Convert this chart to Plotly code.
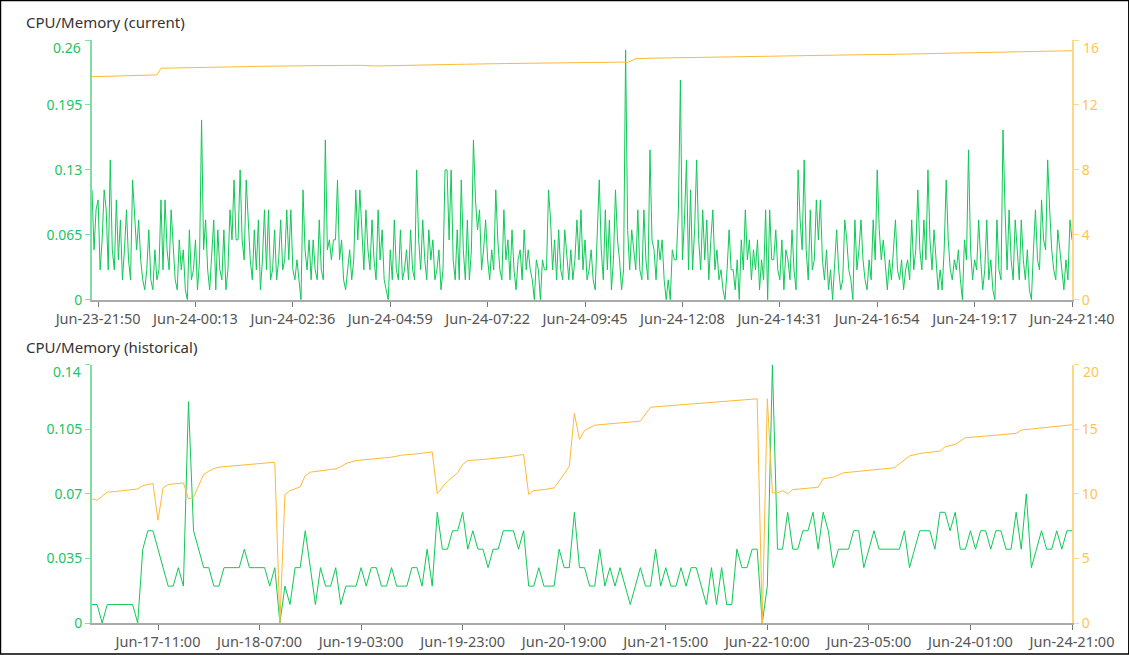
import plotly.graph_objects as go

# Dados: CPU/Memory (current) - uma amostra a cada ~3 min
cpu_current = [
    0.11, 0.05, 0.09, 0.10, 0.03, 0.06, 0.11, 0.09, 0.03, 0.14, 0.05, 0.03, 0.10, 0.04, 0.08, 0.02, 0.05, 0.09, 0.04, 0.02, 0.12, 0.08, 0.05, 0.08,
    0.04, 0.02, 0.01, 0.03, 0.07, 0.02, 0.01, 0.05, 0.02, 0.03, 0.10, 0.03, 0.10, 0.05, 0.03, 0.09, 0.06, 0.02, 0.01, 0.06, 0.03, 0.05, 0.01, 0.00,
    0.07, 0.02, 0.03, 0.06, 0.01, 0.04, 0.18, 0.05, 0.08, 0.03, 0.01, 0.05, 0.08, 0.01, 0.07, 0.03, 0.02, 0.07, 0.01, 0.03, 0.09, 0.06, 0.12, 0.06,
    0.06, 0.13, 0.06, 0.04, 0.12, 0.08, 0.04, 0.02, 0.07, 0.03, 0.08, 0.01, 0.04, 0.09, 0.03, 0.09, 0.02, 0.03, 0.07, 0.02, 0.04, 0.08, 0.03, 0.04,
    0.09, 0.04, 0.09, 0.03, 0.02, 0.04, 0.02, 0.00, 0.11, 0.05, 0.03, 0.06, 0.02, 0.06, 0.03, 0.02, 0.08, 0.03, 0.02, 0.16, 0.05, 0.06, 0.04, 0.06,
    0.06, 0.12, 0.04, 0.06, 0.02, 0.01, 0.03, 0.05, 0.02, 0.04, 0.11, 0.06, 0.11, 0.07, 0.03, 0.09, 0.05, 0.03, 0.08, 0.04, 0.02, 0.09, 0.04, 0.07,
    0.02, 0.01, 0.00, 0.05, 0.02, 0.08, 0.03, 0.02, 0.07, 0.02, 0.03, 0.05, 0.02, 0.07, 0.03, 0.02, 0.13, 0.06, 0.03, 0.08, 0.04, 0.02, 0.07, 0.04,
    0.06, 0.02, 0.03, 0.05, 0.01, 0.03, 0.13, 0.13, 0.06, 0.13, 0.04, 0.02, 0.07, 0.02, 0.12, 0.05, 0.02, 0.08, 0.02, 0.05, 0.16, 0.10, 0.07, 0.09,
    0.03, 0.05, 0.08, 0.04, 0.02, 0.05, 0.03, 0.11, 0.06, 0.03, 0.02, 0.09, 0.04, 0.06, 0.02, 0.07, 0.03, 0.01, 0.04, 0.05, 0.02, 0.07, 0.03, 0.05,
    0.03, 0.02, 0.00, 0.04, 0.03, 0.00, 0.04, 0.03, 0.03, 0.11, 0.08, 0.03, 0.06, 0.02, 0.07, 0.03, 0.02, 0.07, 0.04, 0.02, 0.05, 0.02, 0.04, 0.08,
    0.04, 0.09, 0.03, 0.06, 0.02, 0.03, 0.05, 0.02, 0.01, 0.06, 0.12, 0.05, 0.02, 0.09, 0.03, 0.08, 0.01, 0.04, 0.11, 0.06, 0.04, 0.01, 0.03, 0.25,
    0.07, 0.03, 0.07, 0.05, 0.03, 0.09, 0.03, 0.02, 0.09, 0.04, 0.02, 0.15, 0.06, 0.05, 0.02, 0.06, 0.04, 0.06, 0.02, 0.00, 0.02, 0.00, 0.05, 0.04,
    0.04, 0.09, 0.22, 0.04, 0.08, 0.14, 0.03, 0.11, 0.03, 0.07, 0.14, 0.06, 0.03, 0.09, 0.04, 0.08, 0.02, 0.06, 0.09, 0.03, 0.05, 0.02, 0.03, 0.01,
    0.00, 0.03, 0.07, 0.03, 0.03, 0.01, 0.04, 0.00, 0.06, 0.03, 0.09, 0.04, 0.06, 0.02, 0.05, 0.03, 0.06, 0.01, 0.04, 0.02, 0.09, 0.00, 0.09, 0.04,
    0.04, 0.07, 0.03, 0.02, 0.06, 0.01, 0.05, 0.04, 0.02, 0.07, 0.03, 0.01, 0.13, 0.08, 0.05, 0.14, 0.05, 0.02, 0.09, 0.03, 0.04, 0.10, 0.06, 0.10,
    0.04, 0.02, 0.05, 0.01, 0.03, 0.00, 0.03, 0.07, 0.03, 0.01, 0.02, 0.08, 0.06, 0.03, 0.02, 0.00, 0.08, 0.03, 0.05, 0.08, 0.04, 0.02, 0.01, 0.04,
    0.02, 0.08, 0.04, 0.13, 0.07, 0.04, 0.06, 0.03, 0.01, 0.04, 0.02, 0.05, 0.08, 0.03, 0.02, 0.04, 0.01, 0.03, 0.04, 0.02, 0.08, 0.03, 0.05, 0.11,
    0.05, 0.03, 0.08, 0.04, 0.13, 0.06, 0.03, 0.07, 0.04, 0.01, 0.03, 0.01, 0.05, 0.12, 0.06, 0.03, 0.02, 0.04, 0.03, 0.05, 0.02, 0.00, 0.06, 0.04,
    0.15, 0.05, 0.02, 0.04, 0.03, 0.08, 0.04, 0.01, 0.03, 0.08, 0.02, 0.04, 0.01, 0.00, 0.08, 0.03, 0.02, 0.17, 0.09, 0.03, 0.09, 0.04, 0.02, 0.08,
    0.05, 0.02, 0.08, 0.04, 0.02, 0.05, 0.01, 0.00, 0.05, 0.09, 0.04, 0.03, 0.10, 0.06, 0.05, 0.14, 0.09, 0.05, 0.03, 0.02, 0.07, 0.05, 0.03, 0.01,
    0.04, 0.02, 0.08, 0.06,
]

# memória (current): índice da amostra e valor
mem_current_idx = [0, 12, 24, 32, 34, 48, 60, 84, 108, 132, 140, 156, 180, 204, 228, 252, 262, 264, 268,
                   276, 300, 324, 348, 372, 396, 420, 444, 468, 483]
mem_current = [13.74, 13.78, 13.80, 13.85, 14.26, 14.30, 14.33, 14.38, 14.42, 14.44, 14.40, 14.45, 14.50, 14.55,
               14.60, 14.62, 14.64, 14.62, 14.85, 14.88, 14.94, 14.98, 15.04, 15.08, 15.12, 15.18, 15.22, 15.28, 15.34]

current_tick_idx = [3, 51, 99, 147, 195, 243, 291, 339, 387, 435, 483]
current_tick_labels = ['Jun-23-21:50', 'Jun-24-00:13', 'Jun-24-02:36', 'Jun-24-04:59', 'Jun-24-07:22',
                       'Jun-24-09:45', 'Jun-24-12:08', 'Jun-24-14:31', 'Jun-24-16:54', 'Jun-24-19:17',
                       'Jun-24-21:40']

# Dados: CPU/Memory (historical) - uma amostra por hora
cpu_hist = [
    0.01, 0.01, 0.00, 0.01, 0.01, 0.01, 0.01, 0.01, 0.01, 0.00,
    0.04, 0.05, 0.05, 0.04, 0.03, 0.02, 0.02, 0.03, 0.02, 0.12,
    0.05, 0.04, 0.03, 0.03, 0.02, 0.02, 0.03, 0.03, 0.03, 0.03,
    0.04, 0.03, 0.03, 0.03, 0.03, 0.02, 0.03, 0.00, 0.02, 0.01,
    0.03, 0.03, 0.05, 0.03, 0.01, 0.03, 0.02, 0.02, 0.03, 0.01,
    0.02, 0.02, 0.02, 0.03, 0.02, 0.03, 0.03, 0.02, 0.02, 0.03,
    0.02, 0.02, 0.02, 0.03, 0.03, 0.02, 0.04, 0.02, 0.06, 0.04,
    0.04, 0.05, 0.05, 0.06, 0.04, 0.05, 0.04, 0.04, 0.03, 0.04,
    0.04, 0.05, 0.05, 0.05, 0.04, 0.05, 0.02, 0.02, 0.03, 0.02,
    0.02, 0.02, 0.04, 0.03, 0.03, 0.06, 0.03, 0.03, 0.02, 0.02,
    0.04, 0.02, 0.03, 0.02, 0.03, 0.02, 0.01, 0.02, 0.03, 0.02,
    0.02, 0.04, 0.02, 0.03, 0.02, 0.02, 0.03, 0.02, 0.03, 0.03,
    0.02, 0.01, 0.03, 0.01, 0.03, 0.01, 0.01, 0.04, 0.03, 0.03,
    0.04, 0.04, 0.00, 0.02, 0.14, 0.04, 0.04, 0.06, 0.04, 0.04,
    0.05, 0.05, 0.06, 0.04, 0.06, 0.05, 0.03, 0.04, 0.04, 0.04,
    0.05, 0.05, 0.03, 0.04, 0.05, 0.04, 0.04, 0.04, 0.04, 0.04,
    0.05, 0.03, 0.04, 0.05, 0.05, 0.05, 0.04, 0.06, 0.06, 0.05,
    0.06, 0.04, 0.04, 0.05, 0.04, 0.05, 0.05, 0.04, 0.05, 0.05,
    0.04, 0.04, 0.06, 0.04, 0.07, 0.03, 0.04, 0.05, 0.04, 0.04,
    0.05, 0.04, 0.05, 0.05,
]

mem_hist_idx = [0, 1, 2, 3, 5, 9, 10, 12, 13, 14, 15, 18, 19, 20, 21, 22, 23, 24, 25, 36, 37, 38, 39, 41, 42, 43,
                48, 49, 50, 52, 59, 61, 64, 67, 68, 70, 72, 73, 74, 77, 82, 85, 86, 87, 89, 91, 92, 93, 94, 95,
                96, 97, 99, 108, 110, 131, 132, 133, 134, 135, 136, 137, 138, 143, 144, 146, 148, 158, 161, 163,
                167, 168, 170, 172, 182, 183, 193]
mem_hist = [9.61, 9.51, 9.82, 10.13, 10.20, 10.38, 10.64, 10.80, 7.96, 10.46, 10.72, 10.85, 9.61, 9.74, 10.64,
            11.50, 11.76, 11.96, 12.07, 12.45, 0.00, 9.94, 10.25, 10.54, 11.42, 11.68,
            11.94, 12.10, 12.35, 12.58, 12.84, 13.00, 13.10, 13.25, 10.03, 10.98, 11.63, 12.27, 12.58, 12.66,
            12.87, 13.05, 9.95, 10.25, 10.33, 10.46, 10.98, 11.55, 12.14, 16.23,
            14.21, 14.91, 15.32, 15.63, 16.71, 17.36, 0.00, 17.36, 10.08, 10.08, 10.25, 10.00, 10.33, 10.51,
            11.18, 11.29, 11.63, 12.02, 12.93, 13.13,
            13.31, 13.65, 13.83, 14.34, 14.68, 14.94, 15.35]

hist_tick_idx = [13, 33, 53, 73, 93, 113, 133, 153, 173, 193]
hist_tick_labels = ['Jun-17-11:00', 'Jun-18-07:00', 'Jun-19-03:00', 'Jun-19-23:00', 'Jun-20-19:00',
                    'Jun-21-15:00', 'Jun-22-10:00', 'Jun-23-05:00', 'Jun-24-01:00', 'Jun-24-21:00']

cpu_current_ticks = [0, 0.065, 0.13, 0.195, 0.26]
cpu_hist_ticks = [0, 0.035, 0.07, 0.105, 0.14]
mem_current_ticks = [0, 4, 8, 12, 16]
mem_hist_ticks = [0, 5, 10, 15, 20]


def main():
    W, H = 1129, 655
    green = '#0fc957'
    orange = '#ffb935'
    green_txt = '#22c463'
    orange_txt = '#ffc453'
    font = 'Noto Sans, Open Sans, sans-serif'

    # área dos gráficos em pixels
    L, R, T, B = 92, 1071.7, 40, 623.5
    pw, ph = R - L, B - T

    def py(y):  # pixel vertical -> coordenada paper
        return (B - y) / ph

    def px(x):
        return (x - L) / pw

    fig = go.Figure()

    # Gráfico de cima (current)
    fig.add_trace(go.Scatter(x=mem_current_idx, y=mem_current, mode='lines',
                             line=dict(color=orange, width=1), xaxis='x', yaxis='y2'))
    fig.add_trace(go.Scatter(x=list(range(len(cpu_current))), y=cpu_current, mode='lines',
                             line=dict(color=green, width=1), xaxis='x', yaxis='y'))

    # Gráfico de baixo (historical)
    fig.add_trace(go.Scatter(x=mem_hist_idx, y=mem_hist, mode='lines',
                             line=dict(color=orange, width=1), xaxis='x2', yaxis='y4'))
    fig.add_trace(go.Scatter(x=list(range(len(cpu_hist))), y=cpu_hist, mode='lines',
                             line=dict(color=green, width=1), xaxis='x2', yaxis='y3'))

    common = dict(showgrid=False, zeroline=False, showline=True, linewidth=2, automargin=False,
                  ticks='outside', ticklen=5)
    xstyle = dict(linecolor='#aaaaaa', tickcolor='#777777', tickfont=dict(size=14.5, color='#555555'), **common)
    gstyle = dict(linecolor='#7ddfa3', tickcolor='#7ddfa3', tickfont=dict(size=14, color=green_txt), **common)
    ostyle = dict(linecolor='#ffd68a', tickcolor='#ffd68a', tickfont=dict(size=14, color=orange_txt), **common)

    # rótulo do topo de cada eixo fica um pouco abaixo da marca (como no original)
    def labels(vals):
        return [f'{v:g}' for v in vals[:-1]] + ['']

    def top_label(vals, yref, left, color):
        return dict(text=f'{vals[-1]:g}', x=0 if left else 1, xref='paper', y=vals[-1], yref=yref,
                    xanchor='right' if left else 'left', xshift=-9 if left else 9, yshift=-7,
                    yanchor='middle', showarrow=False, font=dict(size=14, color=color))

    fig.update_layout(
        width=W, height=H,
        margin=dict(l=L, r=W - R, t=T, b=H - B, autoexpand=False),
        plot_bgcolor='white', paper_bgcolor='white',
        showlegend=False,
        font=dict(family=font),
        xaxis=dict(domain=[0, 1], anchor='y', range=[0, len(cpu_current) - 1],
                   tickmode='array', tickvals=current_tick_idx, ticktext=current_tick_labels, **xstyle),
        yaxis=dict(domain=[py(300), py(40)], anchor='x', range=[0, 0.26], tickmode='array',
                   tickvals=cpu_current_ticks, ticktext=labels(cpu_current_ticks), **gstyle),
        yaxis2=dict(anchor='x', overlaying='y', side='right', range=[0, 16], tickmode='array',
                    tickvals=mem_current_ticks, ticktext=labels(mem_current_ticks), **ostyle),
        xaxis2=dict(domain=[0, 1], anchor='y3', range=[0, len(cpu_hist) - 1],
                    tickmode='array', tickvals=hist_tick_idx, ticktext=hist_tick_labels, **xstyle),
        yaxis3=dict(domain=[py(623.5), py(365)], anchor='x2', range=[0, 0.14], tickmode='array',
                    tickvals=cpu_hist_ticks, ticktext=labels(cpu_hist_ticks), **gstyle),
        yaxis4=dict(anchor='x2', overlaying='y3', side='right', range=[0, 20], tickmode='array',
                    tickvals=mem_hist_ticks, ticktext=labels(mem_hist_ticks), **ostyle),
        annotations=[
            dict(text='CPU/Memory (current)', x=px(24), y=py(22), xref='paper', yref='paper',
                 xanchor='left', yanchor='middle', showarrow=False, font=dict(size=15, color='#333333')),
            dict(text='CPU/Memory (historical)', x=px(24), y=py(347), xref='paper', yref='paper',
                 xanchor='left', yanchor='middle', showarrow=False, font=dict(size=15, color='#333333')),
            top_label(cpu_current_ticks, 'y', True, green_txt),
            top_label(mem_current_ticks, 'y2', False, orange_txt),
            top_label(cpu_hist_ticks, 'y3', True, green_txt),
            top_label(mem_hist_ticks, 'y4', False, orange_txt),
        ],
        shapes=[dict(type='rect', xref='paper', yref='paper', x0=px(0.5), x1=px(W - 0.5),
                     y0=py(H - 0.5), y1=py(0.5), line=dict(color='black', width=1.5))],
    )

    # sem margem no body, para a figura ocupar a janela inteira
    fig.write_html("out.html", config={'displayModeBar': False},
                   post_script="document.body.style.margin='0px';")


if __name__ == "__main__":
    main()
